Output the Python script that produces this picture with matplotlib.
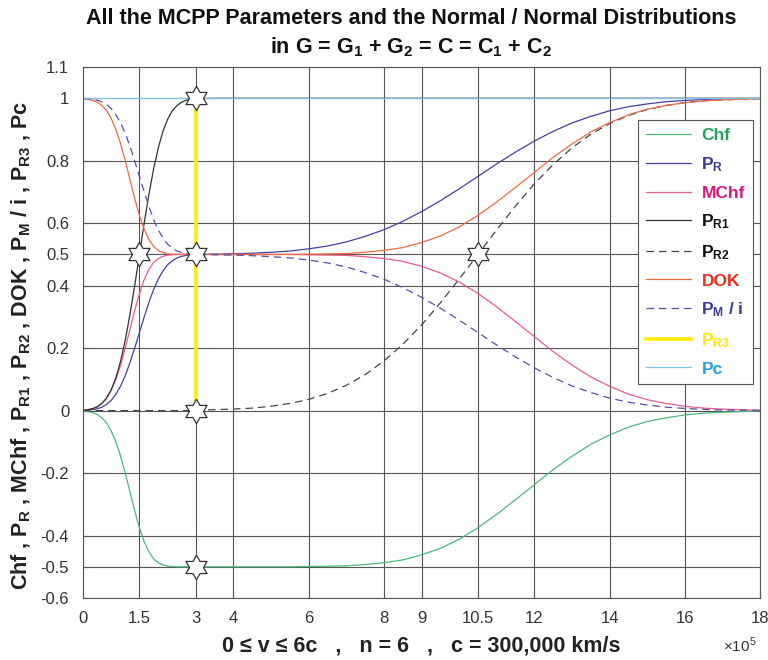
import matplotlib
matplotlib.use("Agg")
import matplotlib.pyplot as plt
from matplotlib.path import Path
import numpy as np

plt.rcParams['font.family'] = ['Liberation Sans', 'DejaVu Sans']
plt.rcParams['mathtext.fontset'] = 'custom'
plt.rcParams['mathtext.rm'] = 'Liberation Sans'
plt.rcParams['mathtext.bf'] = 'Liberation Sans:bold'
plt.rcParams['axes.unicode_minus'] = False

# ---------------- data (x in units of 1e5 km/s) ----------------
x = [0, 0.125, 0.25, 0.375, 0.5, 0.625, 0.75, 0.875, 1.0, 1.125, 1.25, 1.375, 1.5,
     1.625, 1.75, 1.875, 2.0, 2.125, 2.25, 2.375, 2.5, 2.625, 2.75, 2.875, 3.0,
     3.5, 4, 4.5, 5, 5.5, 6, 6.5, 7, 7.5, 8, 8.5, 9, 9.5, 10, 10.5,
     11, 11.5, 12, 12.5, 13, 13.5, 14, 14.5, 15, 15.5, 16, 16.5, 17, 17.5, 18]

pr1 = [0.001, 0.003, 0.006, 0.012, 0.023, 0.040, 0.067, 0.106, 0.159, 0.227, 0.309, 0.401, 0.500,
       0.599, 0.691, 0.773, 0.841, 0.894, 0.933, 0.960, 0.977, 0.988, 0.994, 0.997, 0.999,
       1, 1, 1, 1, 1, 1, 1, 1, 1, 1, 1, 1, 1, 1, 1,
       1, 1, 1, 1, 1, 1, 1, 1, 1, 1, 1, 1, 1, 1, 1]

pr2 = [0, 0, 0, 0, 0, 0, 0, 0, 0, 0, 0, 0, 0,
       0, 0, 0, 0, 0, 0, 0, 0, 0, 0, 0, 0.001,
       0.003, 0.005, 0.008, 0.014, 0.023, 0.036, 0.055, 0.081, 0.115, 0.159, 0.212, 0.274, 0.345, 0.421, 0.500,
       0.579, 0.655, 0.726, 0.788, 0.841, 0.885, 0.919, 0.945, 0.964, 0.977, 0.986, 0.992, 0.995, 0.997, 0.999]

pr = [0.001, 0.002, 0.003, 0.006, 0.011, 0.020, 0.033, 0.053, 0.079, 0.113, 0.154, 0.201, 0.250,
      0.299, 0.346, 0.387, 0.421, 0.447, 0.467, 0.480, 0.489, 0.494, 0.497, 0.499, 0.500,
      0.501, 0.502, 0.504, 0.507, 0.511, 0.518, 0.527, 0.540, 0.558, 0.579, 0.606, 0.637, 0.672, 0.710, 0.750,
      0.790, 0.828, 0.863, 0.894, 0.921, 0.942, 0.960, 0.973, 0.982, 0.989, 0.993, 0.996, 0.998, 0.999, 0.999]

pm_i = [0.999, 0.998, 0.997, 0.994, 0.989, 0.980, 0.967, 0.947, 0.921, 0.887, 0.846, 0.799, 0.750,
        0.701, 0.654, 0.613, 0.579, 0.553, 0.533, 0.520, 0.511, 0.506, 0.503, 0.501, 0.500,
        0.499, 0.498, 0.496, 0.493, 0.489, 0.482, 0.473, 0.460, 0.442, 0.421, 0.394, 0.363, 0.328, 0.290, 0.250,
        0.210, 0.172, 0.137, 0.106, 0.079, 0.058, 0.040, 0.027, 0.018, 0.011, 0.007, 0.004, 0.002, 0.001, 0.001]

mchf = [0.001, 0.003, 0.006, 0.012, 0.023, 0.039, 0.065, 0.100, 0.146, 0.201, 0.261, 0.321, 0.375,
        0.419, 0.452, 0.474, 0.487, 0.494, 0.498, 0.499, 0.500, 0.500, 0.500, 0.500, 0.500,
        0.500, 0.500, 0.500, 0.500, 0.500, 0.499, 0.498, 0.497, 0.493, 0.487, 0.478, 0.462, 0.441, 0.412, 0.375,
        0.332, 0.285, 0.237, 0.189, 0.146, 0.108, 0.078, 0.053, 0.035, 0.023, 0.014, 0.008, 0.005, 0.003, 0.001]

chf = [-0.001, -0.003, -0.006, -0.012, -0.023, -0.039, -0.065, -0.100, -0.146, -0.201, -0.261, -0.321, -0.375,
       -0.419, -0.452, -0.474, -0.487, -0.494, -0.498, -0.499, -0.500, -0.500, -0.500, -0.500, -0.500,
       -0.500, -0.500, -0.500, -0.500, -0.500, -0.499, -0.498, -0.497, -0.493, -0.487, -0.478, -0.462, -0.441, -0.412, -0.375,
       -0.332, -0.285, -0.237, -0.189, -0.146, -0.108, -0.078, -0.053, -0.035, -0.023, -0.014, -0.008, -0.005, -0.003, -0.001]

dok = [0.999, 0.997, 0.994, 0.988, 0.977, 0.961, 0.935, 0.900, 0.854, 0.799, 0.739, 0.679, 0.625,
       0.581, 0.548, 0.526, 0.513, 0.506, 0.502, 0.501, 0.500, 0.500, 0.500, 0.500, 0.500,
       0.500, 0.500, 0.500, 0.500, 0.500, 0.501, 0.502, 0.503, 0.507, 0.513, 0.522, 0.538, 0.559, 0.588, 0.625,
       0.668, 0.715, 0.763, 0.811, 0.854, 0.892, 0.922, 0.947, 0.965, 0.977, 0.986, 0.992, 0.995, 0.997, 0.999]

pc = [1] * len(x)

pr3_x = [3, 3]
pr3_y = [0, 1]

star_x = [1.5, 3, 3, 3, 3, 10.5]
star_y = [0.5, 1, 0.5, 0, -0.5, 0.5]

xticks = [0, 1.5, 3, 4, 6, 8, 9, 10.5, 12, 14, 16, 18]
xtick_labels = ['0', '1.5', '3', '4', '6', '8', '9', '10.5', '12', '14', '16', '18']
yticks = [-0.6, -0.5, -0.4, -0.2, 0, 0.2, 0.4, 0.5, 0.6, 0.8, 1, 1.1]
ytick_labels = ['-0.6', '-0.5', '-0.4', '-0.2', '0', '0.2', '0.4', '0.5', '0.6', '0.8', '1', '1.1']

# ---------------- figure ----------------
fig = plt.figure(figsize=(7.68, 6.6), dpi=100)
ax = fig.add_axes([0.1081, 0.0939, 0.8815, 0.8045])

lw = 0.9
ax.plot(x, chf, color='#4cb87e', lw=lw, label='Chf')
ax.plot(x, pr, color='#4242a2', lw=lw, label=r'$\mathbf{P_R}$')
ax.plot(x, mchf, color='#ea5a94', lw=lw, label='MChf')
ax.plot(x, pr1, color='#333333', lw=lw, label=r'$\mathbf{P_{R1}}$')
ax.plot(x, pr2, color='#444444', lw=lw, ls=(0, (6, 4)), label=r'$\mathbf{P_{R2}}$')
ax.plot(x, dok, color='#ef6a40', lw=lw, label='DOK')
ax.plot(x, pm_i, color='#5252aa', lw=lw, ls=(0, (6, 4)), label=r'$\mathbf{P_M}$ / i')
ax.plot(pr3_x, pr3_y, color='#ffee00', lw=2.6, label=r'$\mathbf{P_{R3}}$')
ax.plot(x, pc, color='#80c4ea', lw=lw, label='Pc')

# hexagram marker
ang = np.deg2rad(90 + 30 * np.arange(12))
rad = np.where(np.arange(12) % 2 == 0, 1.0, 0.577)
verts = np.column_stack([rad * np.cos(ang), rad * np.sin(ang)])
verts = np.vstack([verts, verts[0]])
hexagram = Path(verts, [Path.MOVETO] + [Path.LINETO] * 11 + [Path.CLOSEPOLY])
ax.plot(star_x, star_y, ls='none', marker=hexagram, markersize=17.5,
        markerfacecolor='white', markeredgecolor='#333333', markeredgewidth=0.9, zorder=5)

ax.set_xlim(0, 18)
ax.set_ylim(-0.6, 1.1)
ax.set_xticks(xticks)
ax.set_xticklabels(xtick_labels)
ax.set_yticks(yticks)
ax.set_yticklabels(ytick_labels)
ax.tick_params(direction='in', length=4, labelsize=12, labelcolor='#333333', color='#555555')
ax.tick_params(axis='x', pad=9)
ax.tick_params(axis='y', pad=10)
ax.grid(True, color='#555555', lw=0.8)
ax.set_axisbelow(True)
for s in ax.spines.values():
    s.set_color('#555555')
    s.set_linewidth(0.8)

leg = ax.legend(loc='upper right', bbox_to_anchor=(0.989, 0.900), borderaxespad=0,
                prop={'weight': 'bold', 'size': 12.5}, handlelength=2.6,
                frameon=True, fancybox=False, edgecolor='#555555', framealpha=1,
                labelspacing=0.68, borderpad=0.45, handletextpad=0.6)
leg.get_frame().set_linewidth(0.8)
text_colors = ['#23a25a', '#3a3a9a', '#d8187c', '#111111', '#111111', '#ee2a1a', '#3a3a9a', '#ffe600', '#1ea4e0']
for t, c in zip(leg.get_texts(), text_colors):
    t.set_color(c)

fig.text(0.535, 0.972, 'All the MCPP Parameters and the Normal / Normal Distributions',
         ha='center', va='center', fontsize=15.5, fontweight='bold', color='#111111')
fig.text(0.535, 0.929, r'in G = G$\mathbf{_1}$ + G$\mathbf{_2}$ = C = C$\mathbf{_1}$ + C$\mathbf{_2}$',
         ha='center', va='center', fontsize=15.5, fontweight='bold', color='#111111')

ax.set_xlabel('0 ≤ v ≤ 6c   ,   n = 6   ,   c = 300,000 km/s', fontsize=15.5, fontweight='bold',
              color='#222222', labelpad=7)
ax.set_ylabel(r'Chf , $\mathbf{P_R}$ , MChf , $\mathbf{P_{R1}}$ , $\mathbf{P_{R2}}$ , DOK , '
              r'$\mathbf{P_M}$ / i , $\mathbf{P_{R3}}$ , Pc',
              fontsize=15.5, fontweight='bold', color='#222222')
ax.yaxis.set_label_coords(-0.074, 0.476)
fig.text(0.985, 0.022, r'$\times10^{5}$', ha='right', va='center', fontsize=11, color='#333333')

fig.savefig('out.png', dpi=100)
